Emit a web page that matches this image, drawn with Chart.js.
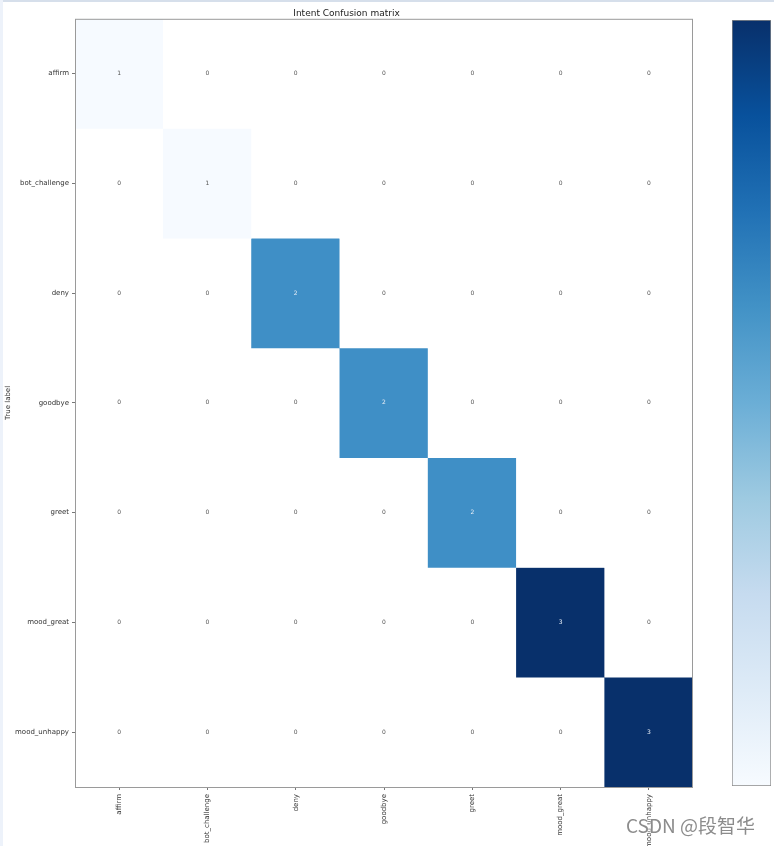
<!DOCTYPE html>
<html>
<head>
<meta charset="utf-8">
<script src="https://cdn.jsdelivr.net/npm/chart.js@4.4.0/dist/chart.umd.min.js"></script>
<style>
html,body{margin:0;padding:0;background:#fff;}
#wrap{position:relative;width:774px;height:846px;overflow:hidden;background:#fff;}
#main{position:absolute;left:0;top:0;}
#cbar{position:absolute;left:732px;top:20px;}
#topband{position:absolute;left:0;top:0;width:774px;height:2px;background:#d6dfeb;}
#leftband{position:absolute;left:0;top:0;width:3px;height:846px;background:#edf2fa;}
#wm{position:absolute;left:626px;top:811px;font:19px "Noto Sans CJK SC","DejaVu Sans",sans-serif;color:#8c8c8c;white-space:nowrap;
  text-shadow:0 0 2px #fff,0 0 2px #fff;}
</style>
</head>
<body>
<div id="wrap">
  <canvas id="main" width="774" height="846"></canvas>
  <canvas id="cbar" width="39" height="766"></canvas>
  <div id="topband"></div>
  <div id="leftband"></div>
  <div id="wm">CSDN @段智华</div>
</div>
<script>
// intent names (same order on both axes)
const predictedLabels = ['affirm','bot_challenge','deny','goodbye','greet','mood_great','mood_unhappy'];
const trueLabels = ['affirm','bot_challenge','deny','goodbye','greet','mood_great','mood_unhappy'];

// confusion matrix, one row per true label
const rowAffirm       = [1,0,0,0,0,0,0];
const rowBotChallenge = [0,1,0,0,0,0,0];
const rowDeny         = [0,0,2,0,0,0,0];
const rowGoodbye      = [0,0,0,2,0,0,0];
const rowGreet        = [0,0,0,0,2,0,0];
const rowMoodGreat    = [0,0,0,0,0,3,0];
const rowMoodUnhappy  = [0,0,0,0,0,0,3];
const matrix = [rowAffirm,rowBotChallenge,rowDeny,rowGoodbye,rowGreet,rowMoodGreat,rowMoodUnhappy];

const colorbarRange = [1, 3];

// Blues colormap
const blues = ['#f7fbff','#deebf7','#c6dbef','#9ecae1','#6baed6','#4292c6','#2171b5','#08519c','#08306b'];
const cellColors = {0:'#ffffff', 1:'#f6faff', 2:'#3f8fc6', 3:'#08306b'};

const FONT = "'DejaVu Sans', sans-serif";

const cellText = {
  id:'cellText',
  afterDatasetsDraw(chart){
    const ctx = chart.ctx;
    ctx.save();
    ctx.font = '6px ' + FONT;
    ctx.textAlign = 'center';
    ctx.textBaseline = 'middle';
    chart.data.datasets.forEach((ds, r) => {
      const meta = chart.getDatasetMeta(r);
      meta.data.forEach((el, c) => {
        const v = matrix[r][c];
        ctx.fillStyle = v >= 2 ? '#e8eef6' : '#555';
        ctx.fillText(String(v), el.x, (el.y + el.base) / 2);
      });
    });
    ctx.restore();
  }
};

const frame = {
  id:'frame',
  afterDraw(chart){
    const a = chart.chartArea, ctx = chart.ctx;
    ctx.save();
    ctx.strokeStyle = '#9a9a9a';
    ctx.lineWidth = 1;
    ctx.strokeRect(a.left + 0.5, a.top + 0.5, a.right - a.left - 1, a.bottom - a.top);
    ctx.restore();
  }
};

new Chart(document.getElementById('main'), {
  type:'bar',
  data:{
    labels: predictedLabels,
    datasets: trueLabels.map((name, r) => ({
      label: name,
      data: matrix[r].map(() => [r, r + 1]),
      backgroundColor: matrix[r].map(v => cellColors[v]),
      borderWidth: 0,
      grouped: false,
      barPercentage: 1,
      categoryPercentage: 1
    }))
  },
  options:{
    responsive:false,
    animation:false,
    layout:{padding:{left:0, right:81, top:0, bottom:0}},
    plugins:{
      legend:{display:false},
      tooltip:{enabled:false},
      title:{display:true, text:'Intent Confusion matrix', color:'#222',
        font:{family:FONT, size:9, weight:'normal'}, padding:{top:8, bottom:0}}
    },
    scales:{
      x:{
        offset:true,
        grid:{display:true, offset:false, drawOnChartArea:false, drawTicks:true, tickLength:3, color:'#777'},
        border:{display:false},
        ticks:{color:'#333', font:{family:FONT, size:7}, maxRotation:90, minRotation:90, padding:4, autoSkip:false},
        afterFit(scale){ scale.height = 59; }
      },
      y:{
        type:'linear', min:0, max:7, reverse:true,
        afterBuildTicks(scale){ scale.ticks = trueLabels.map((_, i) => ({value: i + 0.5})); },
        grid:{display:true, drawOnChartArea:false, drawTicks:true, tickLength:3, color:'#777'},
        border:{display:false},
        ticks:{color:'#333', font:{family:FONT, size:7}, padding:3, autoSkip:false,
          callback:(v, i) => trueLabels[i]},
        title:{display:true, text:'True label', color:'#333', font:{family:FONT, size:7}, padding:{top:4, bottom:0}},
        afterFit(scale){ scale.width = 75; }
      }
    }
  },
  plugins:[cellText, frame]
});

// colour bar
new Chart(document.getElementById('cbar'), {
  type:'bar',
  data:{
    labels:[''],
    datasets:[{
      data:[colorbarRange],
      backgroundColor(ctx){
        const a = ctx.chart.chartArea;
        if(!a) return blues[4];
        const g = ctx.chart.ctx.createLinearGradient(0, a.bottom, 0, a.top);
        blues.forEach((c, i) => g.addColorStop(i / (blues.length - 1), c));
        return g;
      },
      borderColor:'#8a8a8a',
      borderWidth:1,
      borderSkipped:false,
      barPercentage:1,
      categoryPercentage:1
    }]
  },
  options:{
    responsive:false,
    animation:false,
    layout:{padding:0},
    plugins:{legend:{display:false}, tooltip:{enabled:false}},
    scales:{
      x:{display:false},
      y:{display:false, min:colorbarRange[0], max:colorbarRange[1]}
    }
  }
});
</script>
</body>
</html>
